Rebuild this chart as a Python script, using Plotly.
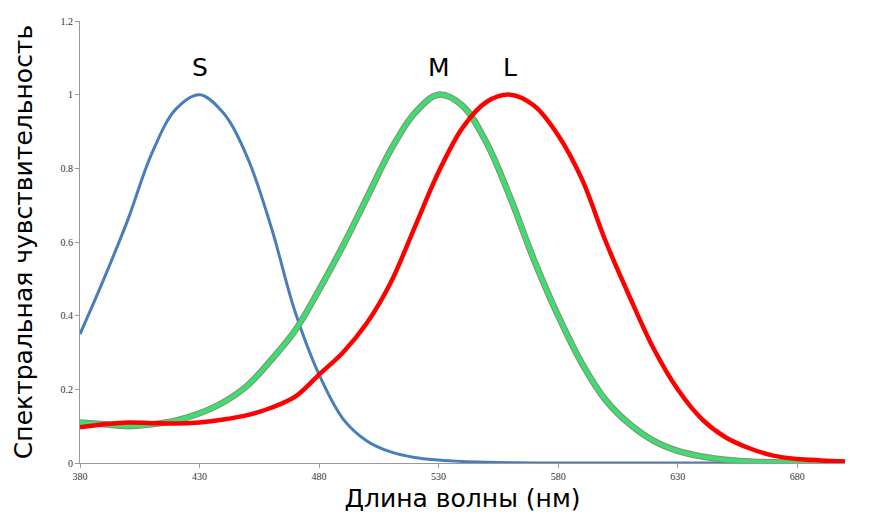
import plotly.graph_objects as go

wl = [380, 390, 400, 410, 420, 430, 440, 450, 460, 470, 480, 490, 500, 510, 520,
      530, 540, 550, 560, 570, 580, 590, 600, 610, 620, 630, 640, 650, 660, 670,
      680, 690, 700]

s_cone = [0.35, 0.50, 0.66, 0.84, 0.96, 1.0, 0.95, 0.83, 0.64, 0.41, 0.24, 0.12,
          0.06, 0.03, 0.015, 0.008, 0.004, 0.002, 0.001, 0, 0, 0, 0, 0, 0, 0, 0,
          0, 0, 0, 0, 0, 0]
m_cone = [0.11, 0.105, 0.10, 0.105, 0.115, 0.135, 0.165, 0.21, 0.28, 0.36, 0.47,
          0.59, 0.72, 0.85, 0.95, 1.0, 0.97, 0.87, 0.72, 0.55, 0.40, 0.27, 0.17,
          0.105, 0.06, 0.033, 0.018, 0.009, 0.004, 0.002, 0.001, 0.0005, 0]
l_cone = [0.097, 0.105, 0.11, 0.108, 0.107, 0.11, 0.118, 0.13, 0.15, 0.18, 0.24,
          0.30, 0.38, 0.49, 0.64, 0.79, 0.91, 0.98, 1.0, 0.97, 0.89, 0.77, 0.60,
          0.45, 0.31, 0.20, 0.12, 0.07, 0.04, 0.02, 0.011, 0.007, 0.004]

labels = ["S", "M", "L"]
label_x = [430, 530, 560]

fig = go.Figure()
fig.add_trace(go.Scatter(x=wl, y=s_cone, mode="lines",
                         line=dict(color="#4a7ebb", width=3, shape="spline")))
fig.add_trace(go.Scatter(x=wl, y=m_cone, mode="lines",
                         line=dict(color="#8c8c70", width=6.5, shape="spline")))
fig.add_trace(go.Scatter(x=wl, y=m_cone, mode="lines",
                         line=dict(color="#3ddc74", width=4.5, shape="spline")))
fig.add_trace(go.Scatter(x=wl, y=l_cone, mode="lines",
                         line=dict(color="#ff0000", width=4.5, shape="spline")))

for name, x in zip(labels, label_x):
    fig.add_annotation(x=x, y=1.075, text=name, showarrow=False,
                       font=dict(family="DejaVu Sans", size=25, color="black"))

axis_font = dict(family="Liberation Serif", size=10, color="#333")
fig.update_layout(
    width=881, height=531,
    margin=dict(l=72, r=44, t=7, b=76),
    plot_bgcolor="white", paper_bgcolor="white",
    showlegend=False,
    xaxis=dict(range=[380, 700], tickvals=[380, 430, 480, 530, 580, 630, 680],
               showgrid=False, zeroline=False, showline=True, linecolor="#999",
               ticks="outside", ticklen=4, tickcolor="#999", tickfont=axis_font,
               title=dict(text="Длина волны (нм)", standoff=8,
                          font=dict(family="DejaVu Sans", size=25, color="black"))),
    yaxis=dict(range=[0, 1.2], tickvals=[0, 0.2, 0.4, 0.6, 0.8, 1, 1.2],
               showgrid=False, zeroline=False, showline=True, linecolor="#999",
               ticks="outside", ticklen=4, tickcolor="#999", tickfont=axis_font,
               title=dict(text="Спектральная чувствительность", standoff=20,
                          font=dict(family="DejaVu Sans", size=25, color="black"))),
)

fig.write_html("out.html")
